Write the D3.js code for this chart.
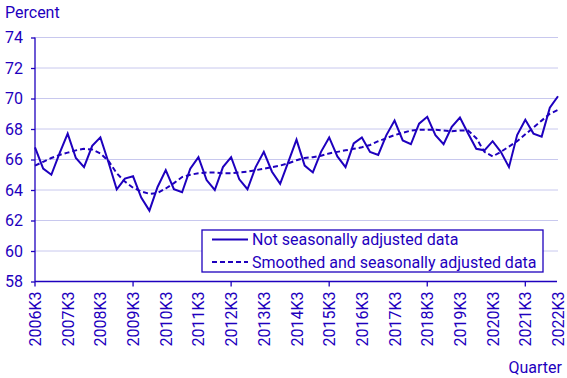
<!DOCTYPE html>
<html><head><meta charset="utf-8">
<script src="https://cdn.jsdelivr.net/npm/d3@7"></script>
<style>body{margin:0;background:#fff}svg{display:block;font-family:Roboto,sans-serif}</style>
</head><body><svg id="c" width="567" height="378"></svg>
<script>
const startYear = 2006;
const quarters = d3.range(65).map(i => { const q = 3 + i; return (startYear + Math.floor((q - 1) / 4)) + "K" + (((q - 1) % 4) + 1); });
const notSA = [66.8,65.4,65.0,66.4,67.7,66.1,65.5,66.9,67.45,65.8,64.05,64.75,64.9,63.5,62.65,64.2,
  65.3,64.05,63.85,65.4,66.15,64.65,64.0,65.5,66.15,64.7,64.05,65.5,66.5,65.2,64.4,65.85,
  67.3,65.6,65.15,66.5,67.45,66.2,65.5,67.05,67.45,66.5,66.3,67.6,68.55,67.25,67.0,68.35,
  68.8,67.6,67.0,68.15,68.75,67.7,66.7,66.6,67.2,66.5,65.5,67.6,68.6,67.7,67.5,69.4,70.15];
const smoothed = [65.6,65.85,66.1,66.3,66.45,66.6,66.7,66.65,66.4,65.9,65.1,64.55,64.15,63.9,63.75,63.8,
  64.1,64.45,64.85,65.0,65.1,65.15,65.15,65.1,65.1,65.15,65.2,65.3,65.4,65.5,65.6,65.75,
  65.95,66.1,66.15,66.25,66.4,66.5,66.6,66.7,66.8,66.95,67.2,67.4,67.6,67.75,67.9,67.95,
  67.95,67.95,67.9,67.85,67.9,67.9,67.4,66.5,66.2,66.5,66.85,67.2,67.65,68.1,68.55,69.0,69.25];
const yTicks = [58,60,62,64,66,68,70,72,74];
const legendLabels = ["Not seasonally adjusted data","Smoothed and seasonally adjusted data"];

const C = "#1e00be", G = "#c8c8ee", FS = 16;
const svg = d3.select("#c");
const x = d3.scalePoint().domain(quarters).range([35, 558]);
const y = d3.scaleLinear().domain([58, 74]).range([281.5, 37.5]);

svg.append("g").selectAll("line").data(yTicks.slice(1)).join("line")
  .attr("x1", 35).attr("x2", 558).attr("y1", d => y(d)).attr("y2", d => y(d))
  .attr("stroke", G).attr("stroke-width", 1);

const ya = svg.append("g").attr("transform", "translate(35,0)")
  .call(d3.axisLeft(y).tickValues(yTicks).tickSize(4).tickPadding(8).tickFormat(d3.format("d")));
ya.select(".domain").attr("stroke", C).attr("stroke-width", 1.3).attr("d", `M0,${y(74)}V${y(58)}`);
ya.selectAll(".tick line").attr("stroke", C).attr("stroke-width", 1.3);
ya.selectAll(".tick text").attr("fill", C).attr("font-size", FS).attr("font-family", "Roboto,sans-serif");

const xa = svg.append("g").attr("transform", `translate(0,${y(58)})`)
  .call(d3.axisBottom(x).tickValues(quarters.filter((d, i) => i % 4 === 0)).tickSize(0).tickPadding(0));
xa.select(".domain").attr("stroke", C).attr("stroke-width", 1.3).attr("d", "M35,0H557");
xa.selectAll(".tick text").attr("fill", C).attr("font-size", FS).attr("font-family", "Roboto,sans-serif")
  .attr("text-anchor", "end").attr("dy", null).attr("y", 0)
  .attr("transform", "translate(5.5,10) rotate(-90)");
svg.append("g").selectAll("line").data(quarters.filter((d, i) => i % 12 === 0)).join("line")
  .attr("x1", d => x(d)).attr("x2", d => x(d)).attr("y1", y(58)).attr("y2", y(58) + 5)
  .attr("stroke", C).attr("stroke-width", 1.3);

const line = d3.line().x((d, i) => x(quarters[i])).y(d => y(d));
svg.append("path").datum(smoothed).attr("d", line).attr("fill", "none").attr("stroke", C)
  .attr("stroke-width", 2).attr("stroke-dasharray", "5,3");
svg.append("path").datum(notSA).attr("d", line).attr("fill", "none").attr("stroke", C)
  .attr("stroke-width", 2).attr("stroke-linejoin", "miter");

svg.append("text").attr("x", 5).attr("y", 18).attr("fill", C).attr("font-size", FS).text("Percent");
svg.append("text").attr("x", 562).attr("y", 373).attr("text-anchor", "end").attr("fill", C).attr("font-size", FS).text("Quarter");

const lg = svg.append("g");
lg.append("rect").attr("x", 202).attr("y", 230).attr("width", 341).attr("height", 42)
  .attr("fill", "#fff").attr("stroke", C).attr("stroke-width", 1.3);
legendLabels.forEach((t, i) => {
  const cy = 239.5 + i * 22.5;
  lg.append("line").attr("x1", 212).attr("x2", 248).attr("y1", cy).attr("y2", cy)
    .attr("stroke", C).attr("stroke-width", 2).attr("stroke-dasharray", i ? "5,3" : null);
  lg.append("text").attr("x", 252).attr("y", cy + 5.5).attr("fill", C).attr("font-size", FS).text(t);
});
</script></body></html>
